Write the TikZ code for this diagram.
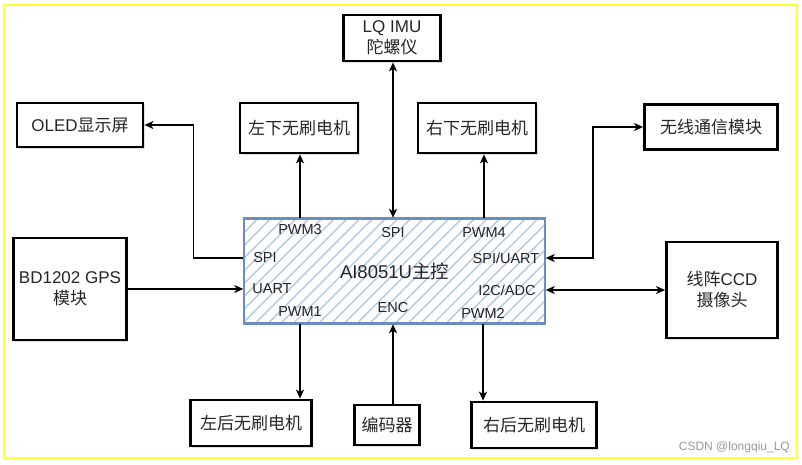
\documentclass[tikz,border=0pt]{standalone}
\usepackage{fontspec}
\setmainfont{Liberation Sans}
\newfontfamily\cjk{Noto Sans CJK SC}
\usetikzlibrary{arrows.meta,patterns.meta,shadows}
\definecolor{mainblue}{HTML}{6C8EBF}
\definecolor{hatchblue}{HTML}{B4C8E4}
\definecolor{frameyellow}{HTML}{FFFF33}
\tikzset{
  box/.style={draw=black, line width=2.8pt, fill=white, align=center, inner sep=1pt,
    font=\fontsize{17}{21}\selectfont, text=black!85,
    drop shadow={opacity=0.25, shadow xshift=1.5pt, shadow yshift=-1.5pt}},
  port/.style={font=\fontsize{14.5}{16}\selectfont, text=black!85, inner sep=0pt},
  arr/.style={line width=1.5pt, -{Stealth[length=9pt,width=8pt,inset=2.5pt]}},
  biarr/.style={line width=1.5pt, {Stealth[length=9pt,width=8pt,inset=2.5pt]}-{Stealth[length=9pt,width=8pt,inset=2.5pt]}},
}
\begin{document}
\begin{tikzpicture}[x=1pt,y=-1pt]
\useasboundingbox (0,0) rectangle (802,464);
\fill[white] (0,0) rectangle (802,464);
\draw[frameyellow, line width=1.6pt] (4,5) rectangle (797,458);

% main controller
\node[draw=mainblue, line width=2.6pt, preaction={fill=white},
  pattern={Lines[angle=45,distance=9pt,line width=1.4pt]}, pattern color=hatchblue,
  minimum width=301pt, minimum height=105pt, inner sep=0pt,
  font=\fontsize{18.5}{21}\selectfont, text=black!85] (main) at (394.5,271) {AI8051U\cjk 主控};

% port labels
\node[port] (pwm3) at (300,230) {PWM3};
\node[port] (spit) at (393,233) {SPI};
\node[port] (pwm4) at (484,233) {PWM4};
\node[port] (spil) at (265,258) {SPI};
\node[port] (spiuart) at (506,258) {SPI/UART};
\node[port] (uart) at (272,289) {UART};
\node[port] (i2c) at (507,290) {I2C/ADC};
\node[port] (pwm1) at (300,312) {PWM1};
\node[port] (encl) at (393,308) {ENC};
\node[port] (pwm2) at (483,313) {PWM2};

% peripheral boxes
\node[box, minimum width=97pt, minimum height=46pt] (imu) at (392,38) {LQ IMU\\\cjk 陀螺仪};
\node[box, minimum width=126pt, minimum height=44pt] (oled) at (80,125) {OLED\cjk 显示屏};
\node[box, minimum width=118pt, minimum height=50pt] (lfm) at (299,128) {\cjk 左下无刷电机};
\node[box, minimum width=118pt, minimum height=50pt] (rfm) at (477,128) {\cjk 右下无刷电机};
\node[box, minimum width=133pt, minimum height=45pt] (wl) at (711,127) {\cjk 无线通信模块};
\node[box, minimum width=113pt, minimum height=102pt] (gps) at (70,289) {BD1202 GPS\\\cjk 模块};
\node[box, minimum width=111pt, minimum height=96pt] (ccd) at (722,290) {\cjk 线阵\rmfamily CCD\\\cjk 摄像头};
\node[box, minimum width=121pt, minimum height=46pt] (lbm) at (251,423) {\cjk 左后无刷电机};
\node[box, minimum width=65pt, minimum height=40pt] (enc) at (387,425) {\cjk 编码器};
\node[box, minimum width=125pt, minimum height=46pt] (rbm) at (534,425) {\cjk 右后无刷电机};

% connectors
\draw[arr] (main.west |- spil) -| ([xshift=49pt]oled.east) -- (oled.east);
\draw[biarr] (main.east |- spiuart) -| ([xshift=-50pt]wl.west) -- (wl.west);
\draw[biarr] (main.east |- i2c) -- (ccd.west |- i2c);
\draw[arr] (gps.east |- uart) -- (main.west |- uart);
\draw[biarr] (imu.south -| spit) -- (main.north -| spit);
\draw[arr] (main.north -| pwm3) -- (lfm.south -| pwm3);
\draw[arr] (main.north -| pwm4) -- (rfm.south -| pwm4);
\draw[arr] (main.south -| pwm1) -- (lbm.north -| pwm1);
\draw[arr] (enc.north -| encl) -- (main.south -| encl);
\draw[arr] (main.south -| pwm2) -- (rbm.north -| pwm2);

% watermark
\node[anchor=east, text=black!40, font=\fontsize{12}{14}\selectfont, inner sep=0pt] (wm) at (790,447) {CSDN @longqiu\_LQ};
\end{tikzpicture}
\end{document}
